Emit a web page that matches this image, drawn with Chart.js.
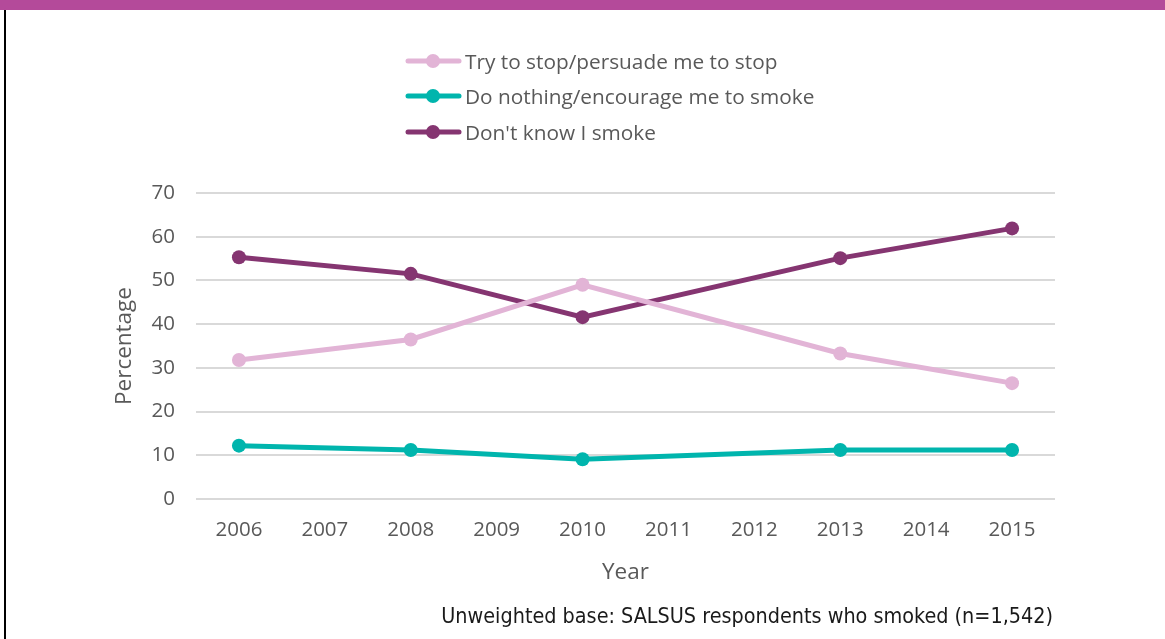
<!DOCTYPE html>
<html>
<head>
<meta charset="utf-8">
<script src="https://cdn.jsdelivr.net/npm/chart.js@4/dist/chart.umd.min.js"></script>
<style>
  html, body { margin: 0; padding: 0; background: #ffffff; }
  #frame { position: relative; width: 1165px; height: 639px; overflow: hidden; background: #ffffff; }
  #band { position: absolute; left: 0; top: 0; width: 1165px; height: 10px; background: #b44a9a; }
  #edge { position: absolute; left: 4px; top: 10px; width: 2px; height: 629px; background: #000000; }
  #wrap { position: absolute; left: 0; top: 0; width: 1165px; height: 639px; }
  #legend { position: absolute; left: 405px; top: 43px; font-family: "Open Sans", "Noto Sans", sans-serif; font-size: 20.8px; color: #595959; }
  .item { display: flex; align-items: center; height: 35.5px; }
  .item canvas { display: block; margin-right: 3px; }
  #note { position: absolute; right: 112px; top: 603px; font-family: "Liberation Sans Narrow", "DejaVu Sans Condensed", "Liberation Sans", sans-serif; font-size: 21.4px; color: #1a1a1a; white-space: nowrap; }
</style>
</head>
<body>
<div id="frame">
  <div id="band"></div>
  <div id="edge"></div>
  <div id="wrap"><canvas id="chart" width="1165" height="639"></canvas></div>
  <div id="legend"></div>
  <div id="note">Unweighted base: SALSUS respondents who smoked (n=1,542)</div>
</div>
<script>
// Survey years on the category axis (not every year was surveyed)
const years = ['2006', '2007', '2008', '2009', '2010', '2011', '2012', '2013', '2014', '2015'];

// Percentage of smokers by how they think their parents would react
const tryToStop = [31.8, null, 36.5, null, 49.0, null, null, 33.3, null, 26.5];
const doNothing = [12.2, null, 11.2, null, 9.1, null, null, 11.2, null, 11.2];
const dontKnow  = [55.3, null, 51.5, null, 41.6, null, null, 55.1, null, 61.9];

const seriesNames = ['Try to stop/persuade me to stop', 'Do nothing/encourage me to smoke', "Don't know I smoke"];
const seriesColors = ['#e2b4d6', '#00b5ad', '#853571'];

// Y axis range and step
const yMin = 0, yMax = 70, yStep = 10;

const greyText = '#595959';
const tickFont = { family: '"Open Sans", "Noto Sans", sans-serif', size: 20.5 };
const titleFont = { family: '"Open Sans", "Noto Sans", sans-serif', size: 22.5 };

function makeSeries(label, data, color) {
  return {
    label, data,
    borderColor: color, backgroundColor: color,
    pointBackgroundColor: color, pointBorderColor: color,
    borderWidth: 5, pointRadius: 7, pointHoverRadius: 7, pointBorderWidth: 0,
    tension: 0, spanGaps: true
  };
}

const chart = new Chart(document.getElementById('chart'), {
  type: 'line',
  data: {
    labels: years,
    datasets: [
      makeSeries(seriesNames[0], tryToStop, seriesColors[0]),
      makeSeries(seriesNames[1], doNothing, seriesColors[1]),
      makeSeries(seriesNames[2], dontKnow, seriesColors[2])
    ]
  },
  options: {
    responsive: false,
    animation: false,
    layout: { padding: { left: 100, top: 193, right: 110, bottom: 50 } },
    plugins: { legend: { display: false }, tooltip: { enabled: false } },
    scales: {
      x: {
        offset: true,
        grid: { display: false, drawTicks: false },
        border: { display: false },
        ticks: { color: greyText, font: tickFont, padding: 19, maxRotation: 0, autoSkip: false },
        title: { display: true, text: 'Year', color: greyText, font: titleFont, padding: { top: 0, bottom: 3 } },
        afterFit(scale) { scale.height = 90; }
      },
      y: {
        min: yMin, max: yMax,
        grid: { color: '#d9d9d9', lineWidth: 2, drawTicks: false },
        border: { display: false },
        ticks: { stepSize: yStep, color: greyText, font: tickFont, padding: 21 },
        title: { display: true, text: 'Percentage', color: greyText, font: titleFont, padding: { top: 11, bottom: 0 } },
        afterFit(scale) { scale.width = 96; }
      }
    }
  }
});

// Vertical legend built from the chart's datasets
const legendBox = document.getElementById('legend');
chart.data.datasets.forEach(ds => {
  const row = document.createElement('div');
  row.className = 'item';
  const sw = document.createElement('canvas');
  sw.width = 57; sw.height = 20;
  const g = sw.getContext('2d');
  g.strokeStyle = ds.borderColor; g.lineWidth = 5; g.lineCap = 'round';
  g.beginPath(); g.moveTo(3, 10); g.lineTo(54, 10); g.stroke();
  g.fillStyle = ds.borderColor;
  g.beginPath(); g.arc(28, 10, 7, 0, Math.PI * 2); g.fill();
  const txt = document.createElement('span');
  txt.textContent = ds.label;
  row.appendChild(sw); row.appendChild(txt);
  legendBox.appendChild(row);
});
</script>
</body>
</html>
